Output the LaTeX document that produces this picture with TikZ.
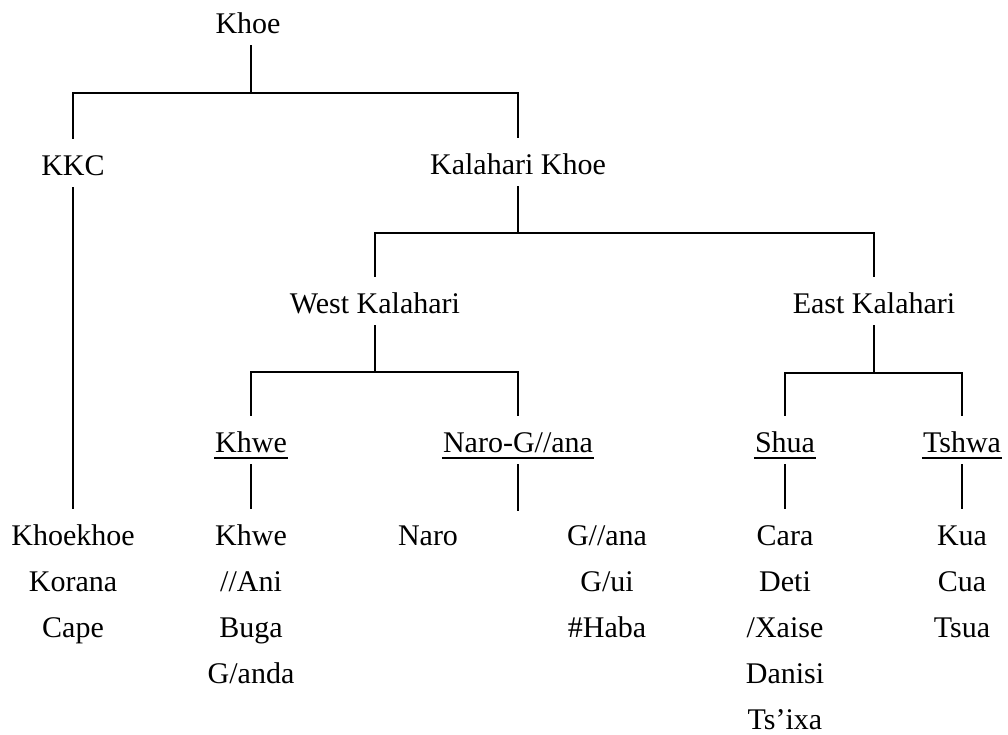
\documentclass[tikz,border=0pt]{standalone}
\usepackage{fontspec}
\setmainfont{Liberation Serif}

\begin{document}
\begin{tikzpicture}[x=1pt,y=-1pt,line width=2.3pt,
  every node/.style={inner sep=0pt,text height=35pt,text depth=11pt,anchor=base,
                     font=\fontsize{30}{36}\selectfont}]
\def\rs{46} % row spacing of the leaves
\def\ly{545} % baseline of the first leaf row
\useasboundingbox (0,0) rectangle (1008,734);

% inner nodes of the tree
\node (khoe) at (248,33) {Khoe};
\node (kkc) at (73,175) {KKC};
\node (kal) at (518,174) {Kalahari Khoe};
\node (west) at (375,313) {West Kalahari};
\node (east) at (874,313) {East Kalahari};
\node (khwe) at (251,452) {Khwe};
\node (narog) at (518,452) {Naro-G//ana};
\node (shua) at (785,452) {Shua};
\node (tshwa) at (962,452) {Tshwa};

% leaves, one column per group
\foreach \name [count=\i] in {Khoekhoe,Korana,Cape}
  \node (kkc\i) at (73,{\ly+\rs*(\i-1)}) {\name};
\foreach \name [count=\i] in {Khwe,//Ani,Buga,G/anda}
  \node (khwe\i) at (251,{\ly+\rs*(\i-1)}) {\name};
\node (naro1) at (428,\ly) {Naro};
\foreach \name [count=\i] in {G//ana,G/ui,\#Haba}
  \node (gana\i) at (607,{\ly+\rs*(\i-1)}) {\name};
\foreach \name [count=\i] in {Cara,Deti,/Xaise,Danisi,Ts’ixa}
  \node (shua\i) at (785,{\ly+\rs*(\i-1)}) {\name};
\foreach \name [count=\i] in {Kua,Cua,Tsua}
  \node (tshwa\i) at (962,{\ly+\rs*(\i-1)}) {\name};

% branches
\draw ([xshift=3pt]khoe.south) -- ++(0,48) -| (kkc.north);
\draw ([xshift=3pt]khoe.south) ++(0,48) -| (kal.north);
\draw (kkc.south) -- (kkc1.north);
\draw (kal.south) -- ++(0,47) -| (west.north);
\draw (kal.south) ++(0,47) -| (east.north);
\draw (west.south) -- ++(0,47) -| (khwe.north);
\draw (west.south) ++(0,47) -| (narog.north);
\draw (east.south) -- ++(0,48) -| (shua.north);
\draw (east.south) ++(0,48) -| (tshwa.north);
\draw (khwe.south) -- (khwe1.north);
\draw (narog.south) -- ++(0,47);
\draw (shua.south) -- (shua1.north);
\draw (tshwa.south) -- (tshwa1.north);

% underlined subgroups
\foreach \n in {khwe,narog,shua,tshwa}
  \draw[line width=2pt] ([yshift=-6pt]\n.base west) -- ([yshift=-6pt]\n.base east);
\end{tikzpicture}
\end{document}
